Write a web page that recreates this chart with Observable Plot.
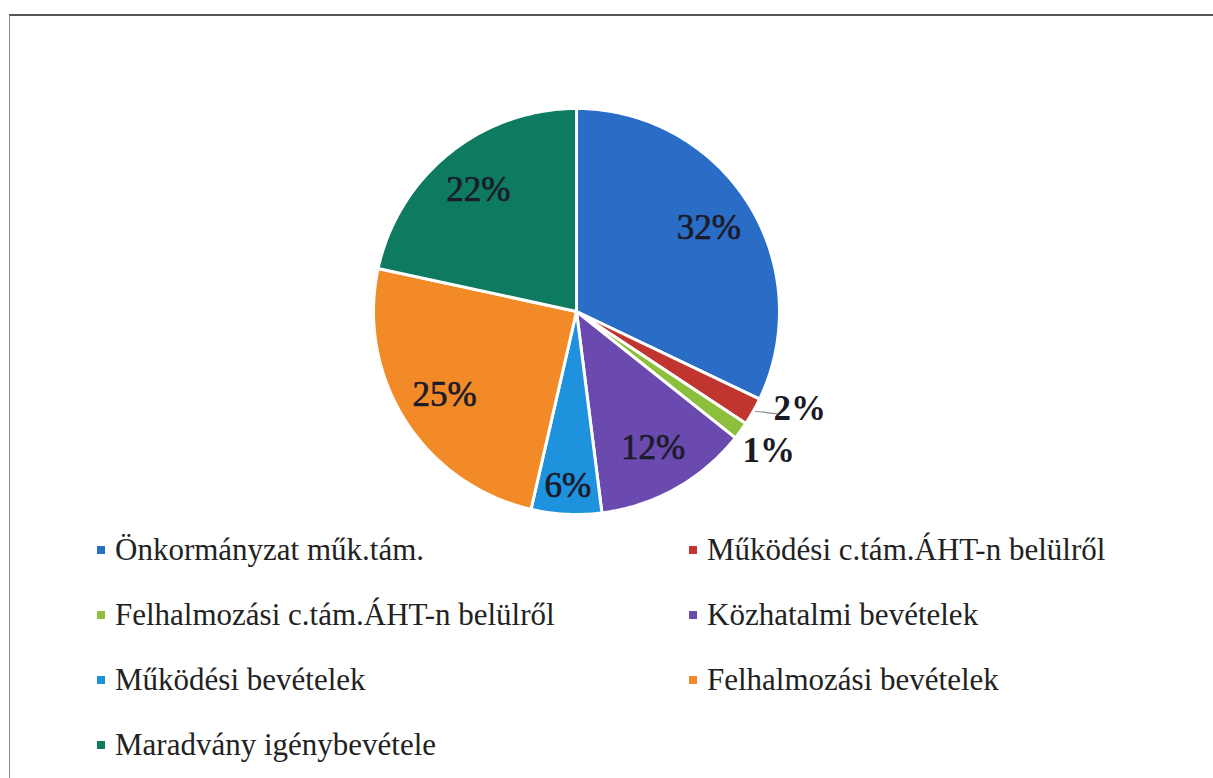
<!DOCTYPE html>
<html>
<head>
<meta charset="utf-8">
<script src="https://cdn.jsdelivr.net/npm/d3@7"></script>
<script src="https://cdn.jsdelivr.net/npm/@observablehq/plot@0.6"></script>
<style>
  html, body { margin: 0; padding: 0; background: #fff; width: 1213px; height: 778px; overflow: hidden; }
  #frame { position: absolute; left: 9px; top: 14px; width: 1220px; height: 800px;
           border-top: 2px solid #555; border-left: 1.5px solid #8a8a8a; box-sizing: border-box; }
  #chart { position: absolute; left: 0; top: 0; }
  #chart svg text { font-family: "Liberation Serif", serif !important; }
  .item { position: absolute; display: flex; align-items: center; height: 40px;
          font-family: "Liberation Serif", serif; font-size: 31px; color: #222; white-space: nowrap; }
  .sw { width: 8px; height: 8px; margin-right: 10px; flex: none; }
</style>
</head>
<body>
<div id="frame"></div>
<div id="chart"></div>
<div id="legend"></div>
<script>
// ---- data ----
const categories = [
  "Önkormányzat műk.tám.",
  "Működési c.tám.ÁHT-n belülről",
  "Felhalmozási c.tám.ÁHT-n belülről",
  "Közhatalmi bevételek",
  "Működési bevételek",
  "Felhalmozási bevételek",
  "Maradvány igénybevétele"
];
const shares = [32.1, 2.2, 1.4, 12.3, 5.6, 24.8, 21.6];
const colors = ["#2a6dc6", "#c0352f", "#8cbf3b", "#6a4aae", "#1e92dd", "#f28b27", "#0e7b61"];

// ---- build slices (angles clockwise from 12 o'clock) ----
const total = d3.sum(shares);
let acc = 0;
const slices = shares.map((v, i) => {
  const a0 = acc / total * 2 * Math.PI;
  acc += v;
  const a1 = acc / total * 2 * Math.PI;
  return {name: categories[i], v, a0, a1, mid: (a0 + a1) / 2, i};
});

const polyPts = [];
for (const s of slices) {
  polyPts.push({name: s.name, x: 0, y: 0});
  const n = Math.max(4, Math.ceil((s.a1 - s.a0) / (Math.PI / 180)));
  for (let k = 0; k <= n; k++) {
    const t = s.a0 + (s.a1 - s.a0) * k / n;
    polyPts.push({name: s.name, x: Math.sin(t), y: Math.cos(t)});
  }
  polyPts.push({name: s.name, x: 0, y: 0});
}

// labels
const labelPts = [];
const leaders = [];
slices.forEach((s, idx) => {
  const txt = Math.round(s.v) + "%";
  let r, ang = s.mid;
  if (s.v >= 8) r = 0.77;
  else if (s.v >= 3) r = 0.86;
  else {
    r = 1.17;
    const next = slices[idx + 1];
    if (next && next.v < 3) {
      ang = s.mid - 6 * Math.PI / 180;
      r = 1.2;
      const lx = r * Math.sin(ang);
      const ex = Math.sin(s.mid), ey = Math.cos(s.mid);
      leaders.push({x1: ex + 0.01, y1: ey, x2: lx - 0.11, y2: ey - 0.01});
    }
  }
  labelPts.push({x: r * Math.sin(ang), y: r * Math.cos(ang), txt, outside: s.v < 3});
});

const W = 1213, H = 530;
const serif = "Liberation Serif";
const chart = Plot.plot({
  width: W, height: H,
  marginLeft: 373, marginRight: W - 779,
  marginTop: 108, marginBottom: H - 514,
  x: {domain: [-1, 1], axis: null},
  y: {domain: [-1, 1], axis: null},
  color: {domain: categories, range: colors},
  style: {background: "transparent", overflow: "visible", fontFamily: serif},
  marks: [
    Plot.line(polyPts, {x: "x", y: "y", z: "name", fill: "name", stroke: "white", strokeWidth: 3, strokeLinejoin: "round", curve: "linear"}),
    Plot.link(leaders, {x1: "x1", y1: "y1", x2: "x2", y2: "y2", stroke: "#8c8c8c", strokeWidth: 1.2, curve: "bump-x"}),
    Plot.text(labelPts.filter(d => !d.outside), {x: "x", y: "y", text: "txt", fontSize: 35, fill: "#1b1b2a",
      stroke: "#1b1b2a", strokeWidth: 0.7, fontFamily: serif, textAnchor: "middle", lineAnchor: "middle"}),
    Plot.text(labelPts.filter(d => d.outside), {x: "x", y: "y", text: "txt", fontSize: 35, fill: "#1b1b26",
      fontFamily: serif, fontWeight: "bold", textAnchor: "middle", lineAnchor: "middle"})
  ]
});
document.getElementById("chart").appendChild(chart);

// ---- legend ----
const leg = document.getElementById("legend");
categories.forEach((c, i) => {
  const row = Math.floor(i / 2), col = i % 2;
  const el = document.createElement("div");
  el.className = "item";
  el.style.left = (col ? 689 : 97) + "px";
  el.style.top = (550 + row * 65 - 20) + "px";
  const sw = document.createElement("span");
  sw.className = "sw";
  sw.style.background = colors[i];
  const t = document.createElement("span");
  t.textContent = c;
  el.appendChild(sw); el.appendChild(t);
  leg.appendChild(el);
});
</script>
</body>
</html>
